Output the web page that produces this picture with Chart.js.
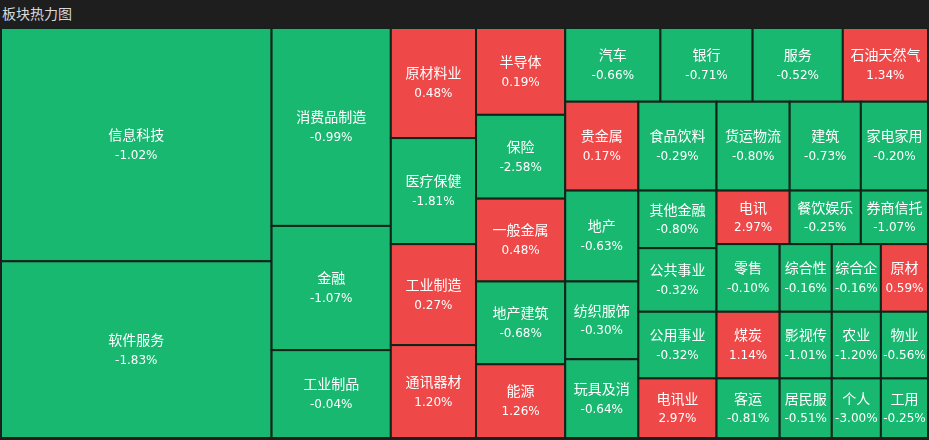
<!DOCTYPE html>
<html><head><meta charset="utf-8">
<script src="https://cdn.jsdelivr.net/npm/chart.js@4"></script>
<style>
html,body{margin:0;padding:0;background:#1e1e1f;}
#title{position:absolute;left:2px;top:3px;color:#d8d8d8;font:14px "Noto Sans CJK SC",sans-serif;}
#wrap{position:absolute;left:1px;top:28px;width:927px;height:410px;}
</style></head><body>
<div id="title">板块热力图</div>
<div id="wrap"><canvas id="c"></canvas></div>
<script>
const names = ["信息科技","软件服务","消费品制造","金融","工业制品","原材料业","医疗保健","工业制造","通讯器材",
  "半导体","保险","一般金属","地产建筑","能源","汽车","银行","服务","石油天然气",
  "贵金属","地产","纺织服饰","玩具及消","食品饮料","货运物流","建筑","家电家用",
  "其他金融","公共事业","公用事业","电讯业","电讯","餐饮娱乐","券商信托",
  "零售","煤炭","客运","综合性","综合企","原材","影视传","居民服","农业","物业","个人","工用"];
const changes = [-1.02,-1.83,-0.99,-1.07,-0.04,0.48,-1.81,0.27,1.20,
  0.19,-2.58,0.48,-0.68,1.26,-0.66,-0.71,-0.52,1.34,
  0.17,-0.63,-0.30,-0.64,-0.29,-0.80,-0.73,-0.20,
  -0.80,-0.32,-0.32,2.97,2.97,-0.25,-1.07,
  -0.10,1.14,-0.81,-0.16,-0.16,0.59,-1.01,-0.51,-1.20,-0.56,-3.00,-0.25];
const sizes = [62370,47250,23324,14637,10353,9265,8925,8500,7820,
  7654,7387,7298,7298,6497,6935,6716,6570,6205,
  6424,6570,5621,5694,6864,6424,6248,5896,
  4446,4914,5148,4602,3869,3763,3551,
  4221,4158,3717,3484,3283,3149,3432,3068,3234,3102,2891,2773];
// grouping of sector indices; directions alternate by depth (x split first)
const r9 = [[41,42],[43,44]];
const r8 = [[39,40], r9];
const r7 = [[36,37,38], r8];
const r6 = [[33,34,35], r7];
const r5 = [[30,31,32], r6];
const r4 = [[26,27,28,29], r5];
const r3 = [[22,23,24,25], r4];
const r2 = [[18,19,20,21], r3];
const r1 = [[14,15,16,17], r2];
const groups = [[0,1],[2,3,4],[5,6,7,8],[9,10,11,12,13], r1];

function total(n){ return Array.isArray(n) ? n.reduce((s,c)=>s+total(c),0) : sizes[n]; }
const cells = [];
function layout(node,x0,y0,x1,y1,depth){
  if (!Array.isArray(node)) { cells.push({i:node,x0,y0,x1,y1}); return; }
  const t = total(node); let p = depth%2===0 ? x0 : y0;
  for (const c of node){
    const f = total(c)/t;
    if (depth%2===0){ const w=(x1-x0)*f; layout(c,p,y0,p+w,y1,depth+1); p+=w; }
    else { const h=(y1-y0)*f; layout(c,x0,p,x1,p+h,depth+1); p+=h; }
  }
}
layout(groups,0,0,100,100,0);

const treePlugin = {
  id:"tree",
  afterDatasetsDraw(chart){
    const {ctx, scales:{x,y}} = chart;
    for (const c of cells){
      const px0=x.getPixelForValue(c.x0), px1=x.getPixelForValue(c.x1);
      const py0=y.getPixelForValue(c.y0), py1=y.getPixelForValue(c.y1);
      const v = changes[c.i];
      ctx.fillStyle = v>=0 ? "#ef4848" : "#19b871";
      ctx.fillRect(px0,py0,px1-px0,py1-py0);
      ctx.strokeStyle = "#10251a"; ctx.lineWidth = 2;
      ctx.strokeRect(px0,py0,px1-px0,py1-py0);
      const cx=(px0+px1)/2, cy=(py0+py1)/2;
      ctx.fillStyle="#ffffff"; ctx.textAlign="center"; ctx.textBaseline="middle";
      ctx.font='14px "Noto Sans CJK SC",sans-serif';
      ctx.fillText(names[c.i],cx,cy-10);
      ctx.font='12px "DejaVu Sans",sans-serif';
      ctx.fillText(v.toFixed(2)+"%",cx,cy+11);
    }
  }
};

new Chart(document.getElementById("c"),{
  type:"scatter",
  data:{datasets:[{data:[]}]},
  options:{responsive:true,maintainAspectRatio:false,animation:false,
    layout:{padding:0},
    plugins:{legend:{display:false},tooltip:{enabled:false}},
    scales:{x:{type:"linear",min:0,max:100,display:false},
            y:{type:"linear",min:0,max:100,reverse:true,display:false}}},
  plugins:[treePlugin]
});
</script></body></html>
